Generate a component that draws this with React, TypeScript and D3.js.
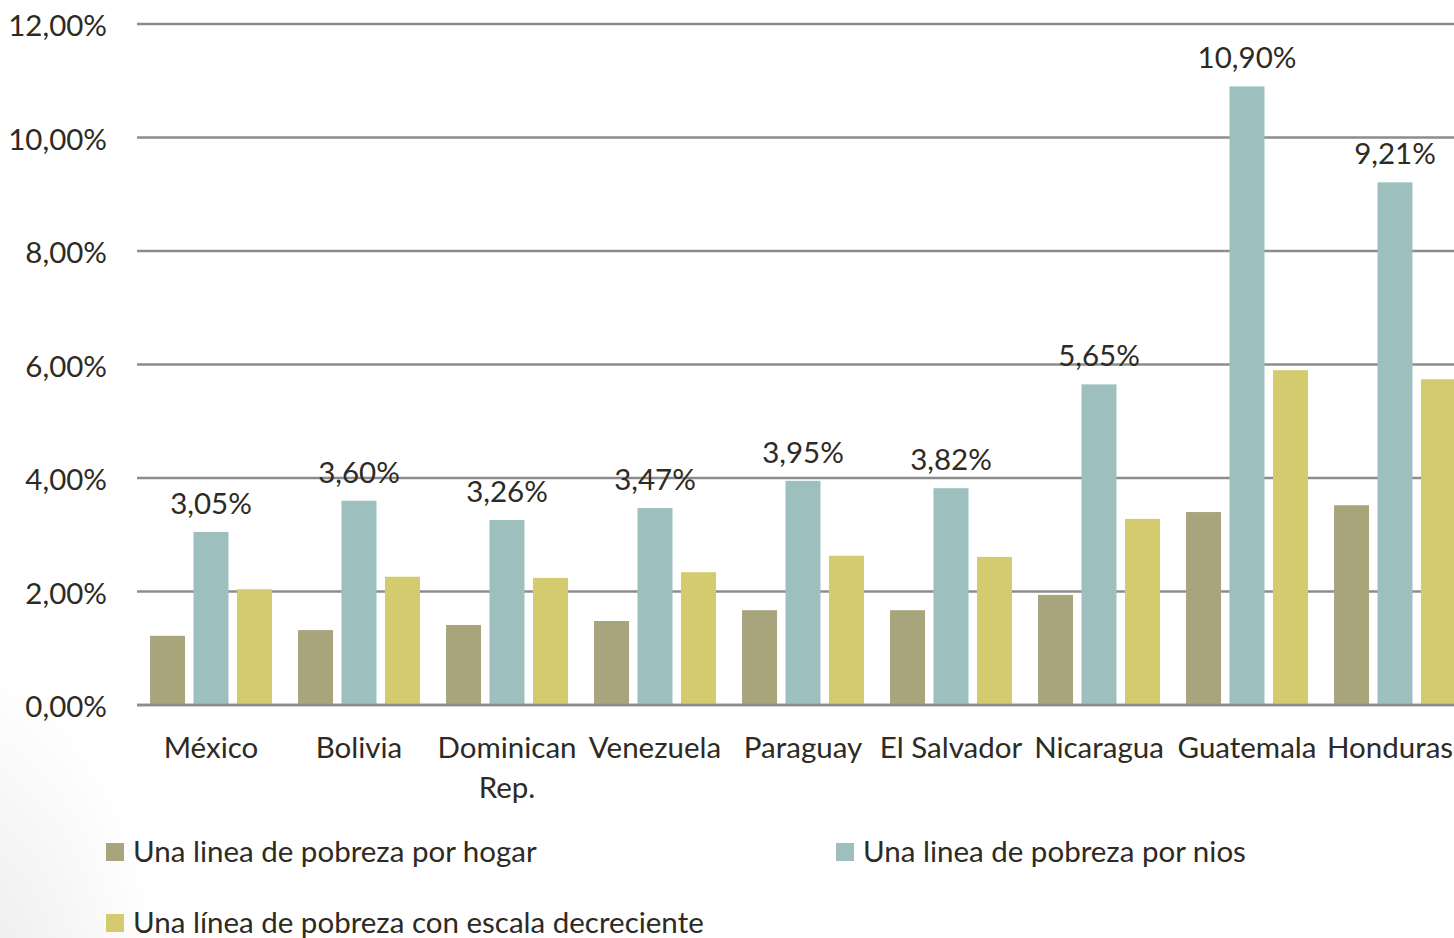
import React from "react";
import * as d3 from "d3";

const categories = ["México", "Bolivia", "Dominican Rep.", "Venezuela", "Paraguay", "El Salvador", "Nicaragua", "Guatemala", "Honduras"];
const categoryLines = [["México"], ["Bolivia"], ["Dominican", "Rep."], ["Venezuela"], ["Paraguay"], ["El Salvador"], ["Nicaragua"], ["Guatemala"], ["Honduras"]];
const seriesNames = ["Una linea de pobreza por hogar", "Una linea de pobreza por nios", "Una línea de pobreza con escala decreciente"];
const hogar = [1.22, 1.32, 1.41, 1.48, 1.67, 1.67, 1.94, 3.40, 3.52];
const nios = [3.05, 3.60, 3.26, 3.47, 3.95, 3.82, 5.65, 10.90, 9.21];
const decreciente = [2.04, 2.26, 2.24, 2.34, 2.63, 2.61, 3.28, 5.90, 5.74];
const yTicks = [0, 2, 4, 6, 8, 10, 12];
const colors = ["#A8A47C", "#9DBFBE", "#D3CB6E"];

const W = 1454, H = 938;
const FONT = "Lato, 'Open Sans', sans-serif";
const FS = 29.5;
const TEXT = "#2E2A24";

export default function App() {
  const series = [hogar, nios, decreciente];
  const x = d3.scaleBand<string>().domain(categories).range([137, 137 + 9 * 148]).paddingInner(0).paddingOuter(0);
  const xs = d3.scaleBand<number>().domain([0, 1, 2]).range([0, x.bandwidth()]).paddingInner(0.195).paddingOuter(0.3);
  const y = d3.scaleLinear().domain([0, 12]).range([705, 24]);
  const fmt = (v: number) => v.toFixed(2).replace(".", ",") + "%";

  return (
    <div style={{ position: "absolute", left: 0, top: 0 }}>
      <svg width={W} height={H} style={{ display: "block" }}>
        <defs>
          <radialGradient id="bg" cx="-0.1" cy="1.1" r="0.4" gradientUnits="objectBoundingBox">
            <stop offset="0" stopColor="#dddddd" />
            <stop offset="1" stopColor="#ffffff" />
          </radialGradient>
        </defs>
        <rect x={0} y={0} width={W} height={H} fill="#fff" />
        <rect x={0} y={0} width={H * 0.6} height={H} fill="url(#bg)" opacity={0.7} />
        {yTicks.map((t) => (
          <g key={t}>
            <line x1={137} x2={W} y1={y(t)} y2={y(t)} stroke="#8C8C8C" strokeWidth={2.5} />
            <text x={107} y={y(t) + 12} textAnchor="end" fontFamily={FONT} fontSize={FS} fill={TEXT}>{fmt(t)}</text>
          </g>
        ))}
        {categories.map((c, i) => (
          <g key={c}>
            {series.map((s, k) => (
              <rect key={k} x={(x(c) as number) + (xs(k) as number)} y={y(s[i])} width={xs.bandwidth()} height={y(0) - y(s[i])} fill={colors[k]} />
            ))}
            <text x={(x(c) as number) + (xs(1) as number) + xs.bandwidth() / 2} y={y(nios[i]) - 18} textAnchor="middle" fontFamily={FONT} fontSize={FS} fill={TEXT}>{fmt(nios[i])}</text>
            {categoryLines[i].map((ln, j) => (
              <text key={j} x={Math.min((x(c) as number) + x.bandwidth() / 2, W - 64)} y={758 + j * 40} textAnchor="middle" fontFamily={FONT} fontSize={FS} fill={TEXT}>{ln}</text>
            ))}
          </g>
        ))}
        <line x1={137} x2={W} y1={y(0)} y2={y(0)} stroke="#8C8C8C" strokeWidth={2.5} />
        {seriesNames.map((n, k) => {
          const lx = k === 1 ? 836 : 106;
          const top = k === 2 ? 914 : 843;
          return (
            <g key={n}>
              <rect x={lx} y={top} width={18} height={18} fill={colors[k]} />
              <text x={lx + 27} y={top + 19} fontFamily={FONT} fontSize={FS} fill={TEXT}>{n}</text>
            </g>
          );
        })}
      </svg>
    </div>
  );
}
